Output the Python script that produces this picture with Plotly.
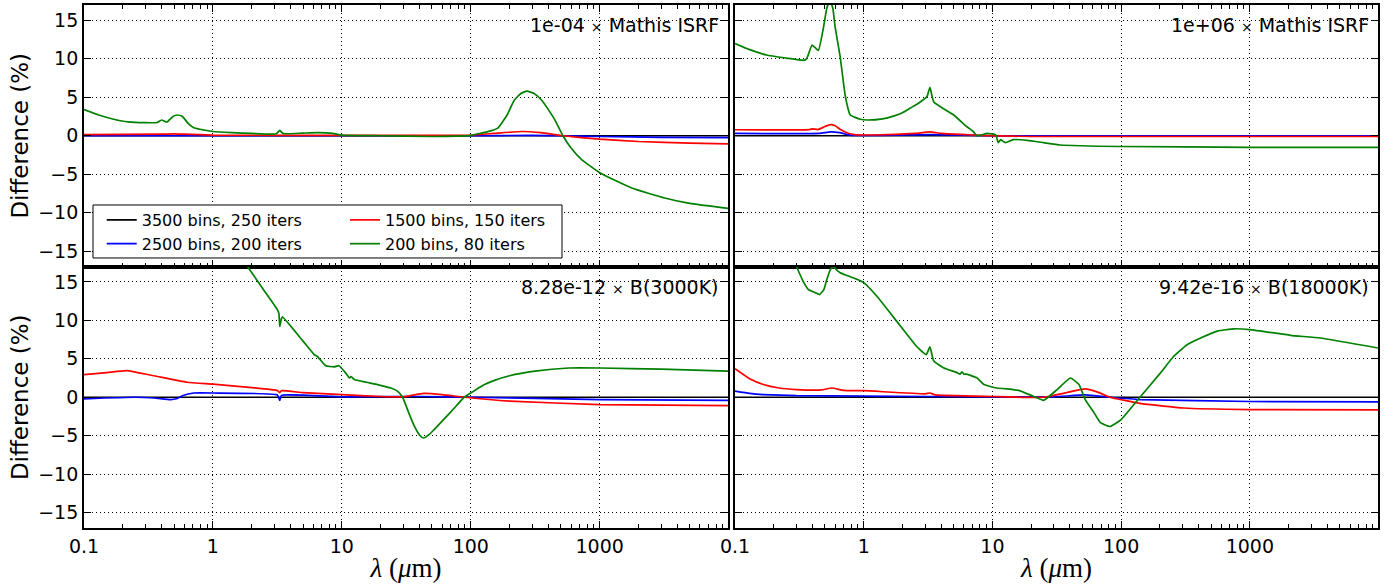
import numpy as np
import plotly.graph_objects as go

# ---------------- data ----------------
panel_titles = ["1e-04 <span style='font-size:14px'>×</span> Mathis ISRF",
                "1e+06 <span style='font-size:14px'>×</span> Mathis ISRF",
                "8.28e-12 <span style='font-size:14px'>×</span> B(3000K)",
                "9.42e-16 <span style='font-size:14px'>×</span> B(18000K)"]
series_names = ["3500 bins, 250 iters", "2500 bins, 200 iters",
                "1500 bins, 150 iters", "200 bins, 80 iters"]
series_colors = ["#000000", "#0000ff", "#ff0000", "#008000"]

# Panel 1: 1e-04 x Mathis ISRF
p1_black_x = [0.1, 9900]
p1_black_y = [0.0, 0.0]
p1_blue_x = [0.1, 100, 300, 520, 1000, 3000, 9900]
p1_blue_y = [0.0, 0.0, 0.05, 0.0, -0.1, -0.2, -0.25]
p1_red_x = [0.1, 0.4, 0.5, 0.6, 1.0, 10, 100, 150, 250, 350, 520, 1000, 2000, 5000, 9900]
p1_red_y = [0.15, 0.2, 0.25, 0.2, 0.08, 0.05, 0.1, 0.3, 0.55, 0.4, 0.0, -0.45, -0.75, -0.95, -1.05]
p1_green_x = [0.1, 0.13, 0.17, 0.22, 0.3, 0.37, 0.40, 0.44, 0.49, 0.53, 0.58, 0.65, 0.72, 0.85,
              1.0, 1.4, 2.0, 3.1, 3.3, 3.5, 5.0, 6.5, 8.5, 10, 20, 50, 80, 100, 121, 140, 162,
              190, 218, 245, 273, 310, 354, 400, 449, 519, 600, 725, 1000, 1775, 3190, 5000, 9900]
p1_green_y = [3.4, 2.7, 2.15, 1.8, 1.7, 1.72, 2.05, 1.78, 2.5, 2.7, 2.5, 1.5, 1.0, 0.75,
              0.55, 0.4, 0.3, 0.25, 0.7, 0.28, 0.35, 0.4, 0.3, 0.08, 0.0, -0.1, -0.05, 0.05, 0.35, 0.6, 1.0,
              2.6, 4.65, 5.5, 5.8, 5.5, 4.65, 3.4, 2.07, 0.0, -1.6, -3.1, -4.8, -6.8, -8.1, -8.8, -9.45]

# Panel 2: 1e+06 x Mathis ISRF
p2_black_x = [0.1, 9900]
p2_black_y = [0.0, 0.0]
p2_blue_x = [0.1, 0.45, 0.55, 0.65, 0.8, 3.3, 10, 9900]
p2_blue_y = [0.3, 0.3, 0.5, 0.4, 0.05, 0.15, 0.0, 0.0]
p2_red_x = [0.1, 0.38, 0.40, 0.44, 0.5, 0.55, 0.6, 0.66, 0.75, 0.85, 1.2, 2.5, 3.27, 4.0, 7.0, 10, 20, 9900]
p2_red_y = [0.78, 0.8, 0.9, 0.8, 1.2, 1.45, 1.3, 0.8, 0.35, 0.15, 0.1, 0.3, 0.5, 0.3, 0.1, 0.0, -0.1, -0.1]
p2_green_x = [0.1, 0.13, 0.176, 0.25, 0.34, 0.36, 0.397, 0.444, 0.487, 0.517, 0.545, 0.575, 0.6,
              0.656, 0.72, 0.786, 0.94, 1.06, 1.4, 1.7, 2.0, 2.3, 2.7, 3.1, 3.27, 3.5, 5.0, 6.3,
              7.1, 7.6, 9.1, 10.6, 11.1, 11.6, 12.6, 14.5, 18.6, 25, 33.7, 100, 1000, 9900]
p2_green_y = [12.0, 11.2, 10.5, 10.1, 9.8, 10.0, 11.8, 11.1, 14.1, 16.6, 17.6, 16.6, 14.1,
              10.3, 5.1, 2.7, 2.15, 2.05, 2.2, 2.55, 3.0, 3.6, 4.3, 5.1, 6.3, 4.4, 2.7, 1.2,
              0.55, 0.0, 0.3, 0.1, -0.9, -0.5, -0.9, -0.5, -0.6, -0.9, -1.2, -1.4, -1.5, -1.52]

# Panel 3: 8.28e-12 x B(3000K)
p3_black_x = [0.1, 9900]
p3_black_y = [0.0, 0.0]
p3_blue_x = [0.1, 0.25, 0.35, 0.47, 0.52, 0.58, 0.71, 1.0, 3.16, 3.3, 3.4, 10, 40, 100, 1000, 9900]
p3_blue_y = [-0.2, 0.0, -0.1, -0.3, -0.2, 0.2, 0.55, 0.55, 0.3, -0.4, 0.25, 0.05, 0.1, 0.0, -0.3, -0.4]
p3_red_x = [0.1, 0.15, 0.215, 0.37, 0.63, 1.0, 2.0, 3.16, 3.3, 3.4, 5.0, 10, 20, 30, 43, 60, 90,
            200, 1000, 9900]
p3_red_y = [2.95, 3.2, 3.47, 2.7, 1.95, 1.7, 1.25, 0.87, 0.6, 0.85, 0.6, 0.35, 0.1, 0.05, 0.5, 0.35, 0.0,
            -0.5, -0.95, -1.08]
p3_green_x = [1.8, 2.5, 3.16, 3.25, 3.3, 3.4, 3.46, 5.0, 6.1, 6.46, 7.5, 8.7, 9.5, 10.4, 11.0, 11.4,
              11.8, 12.5, 18.9, 24, 27, 29.6, 33, 36.6, 40, 43, 48, 52, 58.5, 74.6, 89, 128, 153,
              200, 315, 575, 1000, 3000, 9900]
p3_green_y = [17.3, 13.85, 11.4, 10.9, 9.2, 10.2, 10.45, 7.3, 5.55, 5.3, 4.1, 3.95, 4.1, 3.4, 2.9, 2.5,
              2.7, 2.3, 1.65, 1.2, 0.8, 0.0, -2.0, -3.8, -4.9, -5.3, -4.8, -4.2, -3.3, -1.4, 0.0, 1.65, 2.2,
              2.8, 3.4, 3.8, 3.8, 3.65, 3.4]

# Panel 4: 9.42e-16 x B(18000K)
p4_black_x = [0.1, 9900]
p4_black_y = [0.0, 0.0]
p4_blue_x = [0.1, 0.13, 0.166, 0.3, 1.0, 10, 30, 52.6, 82, 140, 1000, 9900]
p4_blue_y = [0.8, 0.5, 0.35, 0.2, 0.15, 0.05, 0.05, 0.3, 0.0, -0.3, -0.55, -0.6]
p4_red_x = [0.1, 0.13, 0.166, 0.22, 0.3, 0.47, 0.565, 0.7, 1.0, 3.0, 3.27, 3.6, 10, 25, 40, 52.6, 65,
            82, 140, 306, 1000, 9900]
p4_red_y = [3.7, 2.4, 1.65, 1.2, 1.0, 0.95, 1.2, 0.9, 0.85, 0.45, 0.55, 0.3, 0.1, 0.0, 0.7, 1.1, 0.7,
            0.0, -0.8, -1.4, -1.6, -1.65]
p4_green_x = [0.30, 0.34, 0.372, 0.42, 0.454, 0.49, 0.517, 0.55, 0.58, 0.62, 0.656, 0.835, 1.0, 1.27,
              1.8, 2.58, 3.06, 3.27, 3.5, 4.2, 5.3, 5.6, 5.8, 6.0, 6.3, 7.6, 8.6, 10.8, 14.6, 16.6, 21,
              25, 31.8, 40.4, 47, 52.6, 61.5, 69, 82, 100, 140, 203, 255, 327, 415, 561, 756, 1000,
              2070, 3520, 9900]
p4_green_y = [17.0, 15.0, 14.0, 13.6, 13.35, 14.0, 15.3, 16.6, 17.0, 16.5, 16.2, 15.5, 14.9, 13.1,
              9.9, 6.6, 5.55, 6.55, 4.7, 3.8, 3.2, 3.0, 3.3, 3.0, 3.0, 2.5, 1.65, 1.2, 1.0, 0.8, 0.1,
              -0.4, 1.0, 2.5, 1.65, -0.3, -2.0, -3.3, -3.8, -2.9, 0.0, 3.2, 5.3, 6.85, 7.7, 8.6, 8.9, 8.8,
              8.05, 7.7, 6.4]

x_tick_vals = [0.1, 1, 10, 100, 1000]
x_tick_text = ["0.1", "1", "10", "100", "1000"]
y_tick_vals = [-15, -10, -5, 0, 5, 10, 15]
y_tick_text = ["\u221215", "\u221210", "\u22125", "0", "5", "10", "15"]

panels = [
    [(p1_black_x, p1_black_y), (p1_blue_x, p1_blue_y), (p1_red_x, p1_red_y), (p1_green_x, p1_green_y)],
    [(p2_black_x, p2_black_y), (p2_blue_x, p2_blue_y), (p2_red_x, p2_red_y), (p2_green_x, p2_green_y)],
    [(p3_black_x, p3_black_y), (p3_blue_x, p3_blue_y), (p3_red_x, p3_red_y), (p3_green_x, p3_green_y)],
    [(p4_black_x, p4_black_y), (p4_blue_x, p4_blue_y), (p4_red_x, p4_red_y), (p4_green_x, p4_green_y)],
]

# ---------------- figure ----------------
FONT = "DejaVu Sans"
fig = go.Figure()
axis_ids = ["", "2", "3", "4"]
legend_of = ["legend", "legend", "legend2", "legend2"]
for p, series in enumerate(panels):
    for s, (xs, ys) in enumerate(series):
        fig.add_trace(go.Scatter(
            x=xs, y=ys, mode="lines", name=series_names[s],
            line=dict(color=series_colors[s], width=1.7, shape="spline", smoothing=0.4),
            xaxis="x" + axis_ids[p], yaxis="y" + axis_ids[p],
            showlegend=(p == 0), legend=legend_of[s], hoverinfo="skip"))

minor_vals = [m * 10.0 ** e for e in range(-1, 4) for m in range(2, 10)]
xL, xR = [0.0, 0.4977], [0.5031, 1.0]
yT, yB = [0.5, 1.0], [0.0, 0.5]


def xax(domain, anchor, labels, mirror):
    d = dict(type="log", range=[-1, np.log10(9900)], domain=domain, anchor=anchor, automargin=False,
             tickmode="array", tickvals=x_tick_vals, ticktext=x_tick_text,
             showticklabels=labels, ticks="inside", ticklen=7, tickwidth=1.2, tickcolor="black",
             minor=dict(tickmode="array", tickvals=minor_vals, ticks="inside", ticklen=4,
                        tickwidth=1, tickcolor="black", showgrid=False),
             showline=True, linecolor="black", linewidth=1.8, mirror=mirror,
             showgrid=True, gridcolor="black", griddash="1px,3px", gridwidth=1,
             zeroline=False, tickfont=dict(size=19, color="black", family=FONT))
    if labels:
        d["title"] = dict(text="<i>λ</i> (<i>μ</i>m)",
                          font=dict(family="Liberation Serif", size=27, color="black"), standoff=2)
    return d


def yax(domain, anchor, labels):
    d = dict(range=[-17, 17], domain=domain, anchor=anchor, automargin=False,
             tickmode="array", tickvals=y_tick_vals, ticktext=y_tick_text,
             showticklabels=labels, ticks="inside", ticklen=7, tickwidth=1.2, tickcolor="black",
             showline=True, linecolor="black", linewidth=1.8, mirror="allticks",
             showgrid=True, gridcolor="black", griddash="1px,3px", gridwidth=1,
             zeroline=False, tickfont=dict(size=19, color="black", family=FONT))
    if labels:
        d["title"] = dict(text="Difference (%)", font=dict(family=FONT, size=23, color="black"),
                          standoff=3)
    return d


fig.update_layout(
    width=1394, height=588,
    margin=dict(l=84, r=16, t=5, b=60, autoexpand=False),
    paper_bgcolor="white", plot_bgcolor="white",
    font=dict(family=FONT, color="black"),
    xaxis=xax(xL, "y", False, "allticks"), yaxis=yax(yT, "x", True),
    xaxis2=xax(xR, "y2", False, "allticks"), yaxis2=yax(yT, "x2", False),
    xaxis3=xax(xL, "y3", True, True), yaxis3=yax(yB, "x3", True),
    xaxis4=xax(xR, "y4", True, True), yaxis4=yax(yB, "x4", False),
    legend=dict(x=0.0137, xanchor="left", y=0.566, yanchor="middle", bgcolor="rgba(0,0,0,0)",
                borderwidth=0, font=dict(size=16, family=FONT, color="black"), tracegroupgap=0),
    legend2=dict(x=0.2017, xanchor="left", y=0.566, yanchor="middle", bgcolor="rgba(0,0,0,0)",
                 borderwidth=0, font=dict(size=16, family=FONT, color="black"), tracegroupgap=0),
    shapes=[dict(type="rect", xref="paper", yref="paper", x0=0.00696, x1=0.3694, y0=0.5163, y1=0.6176,
                 line=dict(color="black", width=1), fillcolor="white", layer="above")],
)

for p in range(4):
    fig.add_annotation(text=panel_titles[p], xref="x" + axis_ids[p] + " domain",
                       yref="y" + axis_ids[p] + " domain", x=1, y=1, xanchor="right", yanchor="top",
                       xshift=-7, yshift=-7, showarrow=False,
                       font=dict(size=19, family=FONT, color="black"))

fig.write_html("out.html", config={"displayModeBar": False},
               post_script="document.body.style.margin='0';document.body.style.overflow='hidden';")
